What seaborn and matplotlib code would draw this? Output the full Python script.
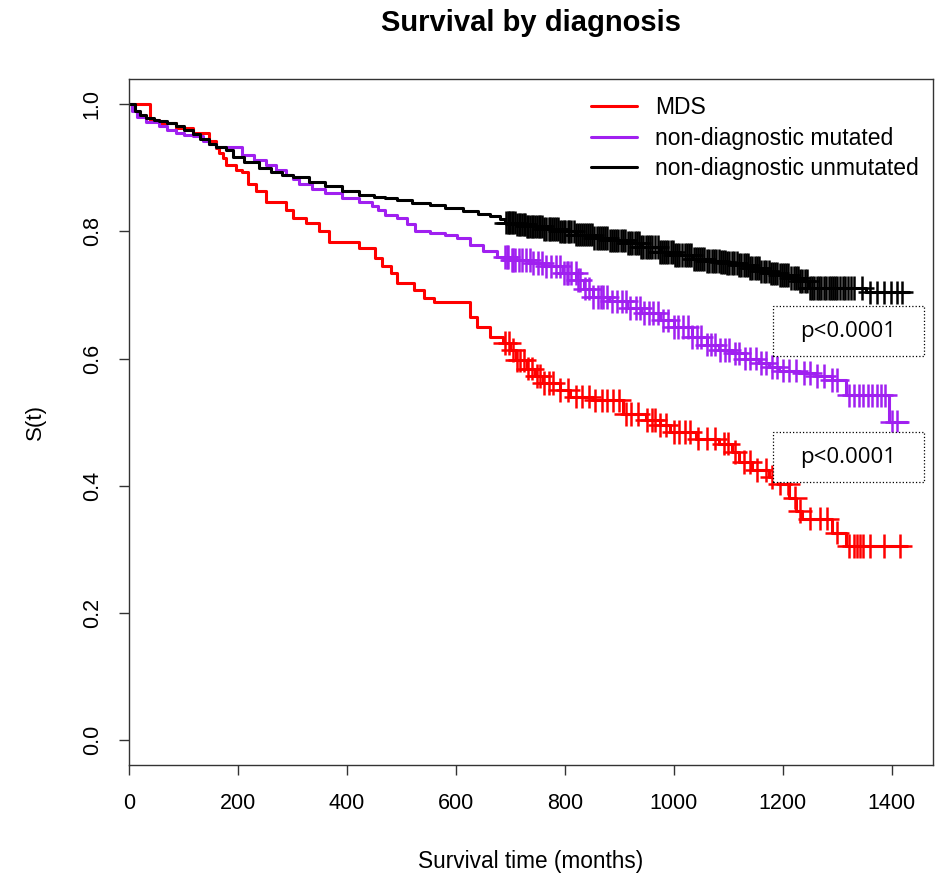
import numpy as np
import pandas as pd
import matplotlib
matplotlib.use("Agg")
from matplotlib import pyplot as plt
from matplotlib.patches import Rectangle
from matplotlib.lines import Line2D
import seaborn as sns

sns.set_style("ticks")
plt.rcParams['font.family'] = ['Liberation Sans', 'DejaVu Sans']
plt.rcParams['text.color'] = 'black'
plt.rcParams['axes.labelcolor'] = 'black'
plt.rcParams['xtick.color'] = 'black'
plt.rcParams['ytick.color'] = 'black'

# Kaplan-Meier step data (time in months, survival after the step)
mds_t = [0, 38, 55, 86, 117, 147, 159, 165, 172, 178, 196, 208, 219, 232, 251, 287, 300, 324,
         348, 366, 421, 452, 465, 480, 492, 522, 541, 560, 626, 638, 662, 687, 699, 711, 730,
         745, 760, 790, 810, 851, 906, 949, 974, 992, 1041, 1083, 1107, 1120, 1144, 1175, 1193,
         1211, 1224, 1235, 1290, 1316]
mds_s = [1.0, 0.976, 0.970, 0.963, 0.955, 0.942, 0.932, 0.924, 0.916, 0.905, 0.897, 0.893, 0.874,
         0.863, 0.847, 0.834, 0.821, 0.814, 0.800, 0.784, 0.774, 0.758, 0.745, 0.735, 0.719, 0.708,
         0.695, 0.689, 0.666, 0.650, 0.634, 0.624, 0.613, 0.597, 0.584, 0.572, 0.561, 0.550, 0.540,
         0.534, 0.513, 0.503, 0.495, 0.484, 0.474, 0.466, 0.453, 0.437, 0.424, 0.413, 0.403, 0.381,
         0.360, 0.348, 0.326, 0.305]
mds_end = 1428
mds_cens = [690, 698, 705, 712, 718, 725, 732, 740, 748, 755, 762, 770, 778, 790, 805, 820, 832,
            845, 856, 868, 878, 888, 900, 912, 922, 935, 950, 960, 966, 975, 985, 1000, 1010, 1020,
            1030, 1045, 1060, 1075, 1092, 1100, 1112, 1128, 1140, 1152, 1170, 1180, 1195, 1210,
            1222, 1232, 1250, 1268, 1282, 1300, 1322, 1330, 1336, 1342, 1348, 1360, 1385, 1415]

mut_t = [0, 5, 15, 31, 55, 70, 86, 100, 117, 135, 147, 160, 208, 230, 251, 270, 287, 300, 311,
         335, 360, 390, 421, 445, 457, 470, 492, 510, 525, 553, 580, 602, 626, 650, 675, 700, 736,
         760, 797, 821, 835, 851, 880, 913, 940, 974, 1000, 1034, 1060, 1083, 1107, 1130, 1157,
         1175, 1193, 1230, 1260, 1290, 1316, 1395]
mut_s = [1.0, 0.990, 0.980, 0.973, 0.966, 0.960, 0.955, 0.952, 0.950, 0.943, 0.937, 0.933, 0.920,
         0.912, 0.905, 0.897, 0.889, 0.882, 0.874, 0.867, 0.861, 0.853, 0.846, 0.840, 0.834, 0.826,
         0.821, 0.812, 0.800, 0.797, 0.794, 0.790, 0.779, 0.770, 0.760, 0.755, 0.750, 0.745, 0.735,
         0.724, 0.710, 0.697, 0.690, 0.680, 0.672, 0.660, 0.650, 0.634, 0.622, 0.613, 0.608, 0.600,
         0.593, 0.587, 0.581, 0.577, 0.572, 0.566, 0.542, 0.500]
mut_end = 1428
mut_cens = [690, 693, 696, 702, 705, 708, 715, 722, 728, 735, 742, 750, 758, 766, 775, 784, 790,
            798, 803, 806, 812, 820, 824, 828, 836, 845, 852, 860, 866, 870, 878, 886, 895, 905,
            912, 920, 930, 938, 946, 955, 962, 970, 980, 990, 1000, 1008, 1016, 1025, 1034, 1042,
            1050, 1060, 1068, 1076, 1085, 1094, 1102, 1112, 1120, 1130, 1140, 1150, 1160, 1170,
            1180, 1190, 1200, 1212, 1225, 1238, 1250, 1262, 1275, 1290, 1300, 1322, 1330, 1340,
            1348, 1356, 1364, 1372, 1380, 1388, 1400, 1410]

unm_t = [0, 10, 20, 31, 45, 55, 70, 86, 100, 117, 130, 147, 160, 178, 190, 210, 238, 260, 280,
         300, 330, 360, 390, 421, 450, 470, 492, 520, 553, 580, 613, 640, 662, 680, 690, 710, 730,
         760, 790, 820, 851, 880, 913, 940, 974, 1000, 1034, 1060, 1083, 1096, 1120, 1140, 1157,
         1175, 1193, 1215, 1230, 1248, 1352]
unm_s = [1.0, 0.990, 0.983, 0.978, 0.976, 0.974, 0.970, 0.966, 0.960, 0.953, 0.945, 0.937, 0.933,
         0.929, 0.918, 0.910, 0.900, 0.894, 0.889, 0.885, 0.878, 0.871, 0.864, 0.858, 0.855, 0.852,
         0.849, 0.845, 0.842, 0.837, 0.832, 0.828, 0.824, 0.820, 0.814, 0.811, 0.808, 0.804, 0.800,
         0.795, 0.790, 0.786, 0.782, 0.776, 0.768, 0.763, 0.757, 0.754, 0.752, 0.750, 0.747, 0.742,
         0.737, 0.734, 0.731, 0.727, 0.722, 0.711, 0.704]
unm_end = 1431
unm_cens = [692, 695, 698, 700, 703, 705, 708, 712, 715, 718, 721, 724, 727, 730, 733, 736, 739,
            742, 745, 748, 752, 755, 758, 762, 766, 770, 773, 776, 780, 784, 787, 790, 794, 798,
            801, 805, 808, 812, 816, 820, 824, 828, 831, 835, 838, 842, 846, 850, 854, 858, 862,
            866, 870, 874, 878, 882, 886, 890, 894, 898, 902, 906, 911, 915, 920, 924, 928, 932,
            936, 940, 944, 948, 952, 956, 960, 965, 970, 974, 978, 982, 986, 990, 994, 998, 1002,
            1006, 1010, 1015, 1020, 1024, 1028, 1032, 1036, 1040, 1044, 1048, 1052, 1056, 1060,
            1065, 1070, 1074, 1078, 1082, 1086, 1090, 1094, 1098, 1102, 1106, 1110, 1115, 1120,
            1124, 1128, 1132, 1136, 1140, 1144, 1148, 1152, 1156, 1160, 1165, 1170, 1174, 1178,
            1182, 1186, 1190, 1194, 1198, 1202, 1206, 1210, 1215, 1220, 1224, 1228, 1232, 1236,
            1240, 1245, 1250, 1254, 1258, 1262, 1266, 1270, 1275, 1280, 1284, 1288, 1292, 1296,
            1300, 1305, 1310, 1315, 1320, 1325, 1330, 1345, 1360, 1372, 1385, 1398, 1410, 1418]

groups = ["MDS", "non-diagnostic mutated", "non-diagnostic unmutated"]
colors = {"MDS": "#FF0000", "non-diagnostic mutated": "#A020F0",
          "non-diagnostic unmutated": "#000000"}
p_labels = ["p<0.0001", "p<0.0001"]

series = [(mds_t, mds_s, mds_end, mds_cens),
          (mut_t, mut_s, mut_end, mut_cens),
          (unm_t, unm_s, unm_end, unm_cens)]

curve_rows = []
cens_rows = []
for g, (t, s, end, cens) in zip(groups, series):
    t = np.array(t, dtype=float)
    s = np.array(s)
    for ti, si in zip(list(t) + [end], list(s) + [s[-1]]):
        curve_rows.append((g, ti, si))
    idx = np.searchsorted(t, cens, side="right") - 1
    for c, i in zip(cens, idx):
        cens_rows.append((g, c, s[i]))

curves = pd.DataFrame(curve_rows, columns=["group", "time", "surv"])
cens_df = pd.DataFrame(cens_rows, columns=["group", "time", "surv"])

fig = plt.figure(figsize=(9.43, 8.84), dpi=100)
ax = fig.add_axes([0.137, 0.1346, 0.852, 0.776])

sns.lineplot(data=curves, x="time", y="surv", hue="group", palette=colors,
             drawstyle="steps-post", estimator=None, sort=False, lw=2.2,
             legend=False, ax=ax)
sns.scatterplot(data=cens_df, x="time", y="surv", hue="group", palette=colors,
                marker="+", s=290, linewidth=1.8, legend=False, ax=ax, zorder=3)

ax.set_xlim(0, 1475)
ax.set_ylim(-0.04, 1.04)
ax.set_xticks(np.arange(0, 1401, 200))
ax.set_yticks(np.arange(0, 1.01, 0.2))
ax.set_yticklabels(["0.0", "0.2", "0.4", "0.6", "0.8", "1.0"], rotation=90, va="center")
ax.tick_params(axis="both", length=7, width=1, labelsize=15.5, color="#333333")
ax.tick_params(axis="x", pad=13)
ax.tick_params(axis="y", pad=12)
for sp in ax.spines.values():
    sp.set_visible(True)
    sp.set_color("#333333")
    sp.set_linewidth(1)

ax.set_xlabel("Survival time (months)", fontsize=16.3)
ax.set_ylabel("S(t)", fontsize=16)
ax.xaxis.set_label_coords(0.5, -0.141)
ax.xaxis.label.set_va("center")
ax.yaxis.set_label_coords(-0.117, 0.5)
ax.yaxis.label.set_va("center")

fig.text(0.563, 0.974, "Survival by diagnosis", ha="center", va="center",
         fontsize=21, fontweight="bold")

handles = [Line2D([], [], color=colors[g], lw=2.2) for g in groups]
ax.legend(handles, groups, loc="upper right", bbox_to_anchor=(1.0, 0.995), frameon=False,
          fontsize=16.5, handlelength=2.0, handletextpad=0.8, labelspacing=0.32,
          borderaxespad=0.2)

for (y0, y1), lab in zip([(0.596, 0.669), (0.4125, 0.485)], p_labels):
    ax.add_patch(Rectangle((0.801, y0), 0.188, y1 - y0, transform=ax.transAxes,
                           fill=True, fc="white", ec="black", ls=":", lw=0.9, zorder=4))
    ax.text(0.895, (y0 + y1) / 2, lab, transform=ax.transAxes, ha="center",
            va="center", fontsize=16, family=["Open Sans", "DejaVu Sans"], zorder=5)

fig.savefig("out.png", dpi=100)
